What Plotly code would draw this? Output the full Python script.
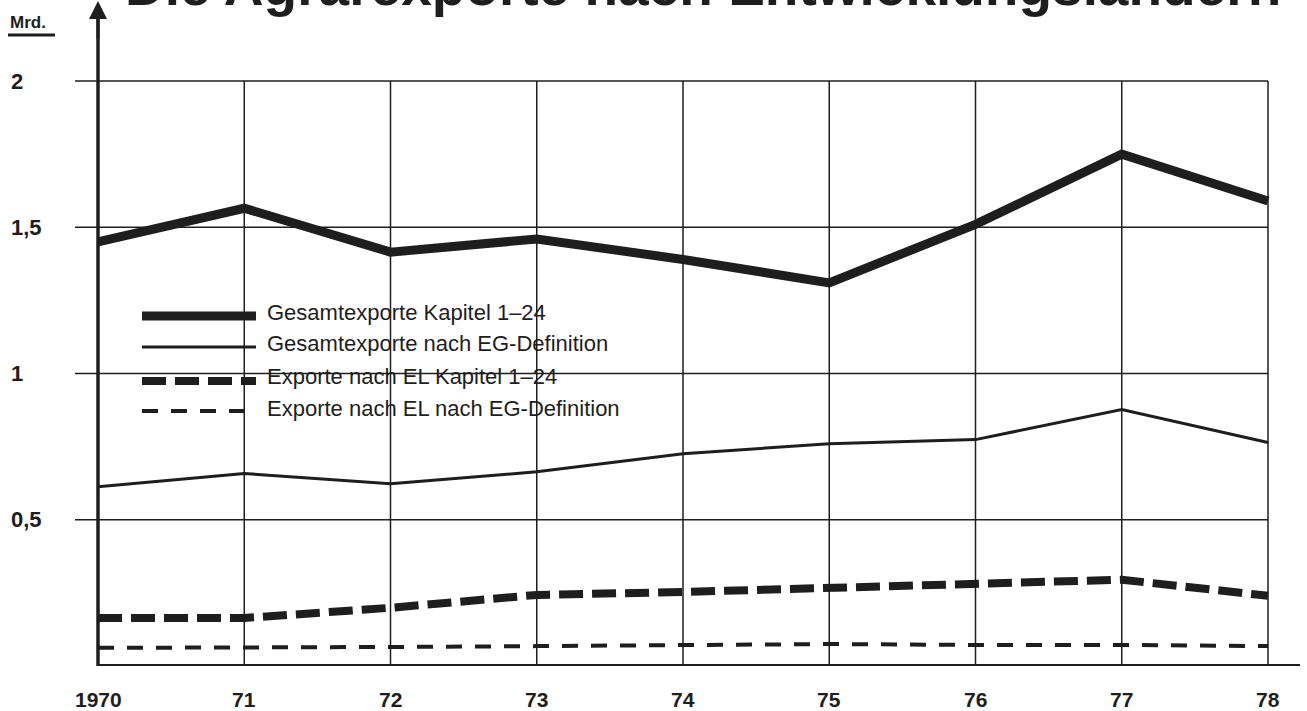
import plotly.graph_objects as go

# ---------------- data ----------------
years = [1970, 1971, 1972, 1973, 1974, 1975, 1976, 1977, 1978]
year_labels = ["1970", "71", "72", "73", "74", "75", "76", "77", "78"]

gesamt_kap = [1.45, 1.565, 1.415, 1.46, 1.39, 1.31, 1.51, 1.75, 1.59]
gesamt_eg = [0.613, 0.658, 0.623, 0.664, 0.726, 0.76, 0.774, 0.877, 0.764]
el_kap = [0.164, 0.164, 0.199, 0.243, 0.253, 0.267, 0.284, 0.295, 0.24]
el_eg = [0.062, 0.062, 0.065, 0.068, 0.07, 0.075, 0.072, 0.072, 0.068]

series_names = [
    "Gesamtexporte Kapitel 1\u201324",
    "Gesamtexporte nach EG-Definition",
    "Exporte nach EL Kapitel 1\u201324",
    "Exporte nach EL nach EG-Definition",
]
y_tickvals = [0.5, 1, 1.5, 2]
y_ticktext = ["0,5", "1", "1,5", "2"]

title_text = "Die Agrarexporte nach Entwicklungsländern"
unit_text = "Mrd."

# ---------------- layout geometry ----------------
W, H = 1307, 711
ML, MR, MT, MB = 98, 7, 5, 45
PW, PH = W - ML - MR, H - MT - MB
x_range = [1970, 1970 + PW / 146.25]
y_range = [0, PH / 292.5]

INK = "#1e1e1e"
FONT = "Liberation Sans, Arial, Helvetica, sans-serif"


def px_x(p):  # pixel -> paper x
    return (p - ML) / PW


def px_y(p):  # pixel -> paper y
    return (H - MB - p) / PH


def data_x_paper(v):
    return (v - x_range[0]) / (x_range[1] - x_range[0])


styles = [
    dict(width=9, dash="solid"),
    dict(width=3, dash="solid"),
    dict(width=8, dash="24px,9px"),
    dict(width=4, dash="16px,13px"),
]
all_series = [gesamt_kap, gesamt_eg, el_kap, el_eg]

fig = go.Figure()
for name, vals, st in zip(series_names, all_series, styles):
    fig.add_trace(go.Scatter(
        x=years, y=vals, mode="lines", name=name, showlegend=False,
        line=dict(color=INK, width=st["width"], dash=st["dash"]),
        cliponaxis=False,
    ))

shapes = []
# horizontal grid lines (extend left of axis)
for v in y_tickvals:
    shapes.append(dict(type="line", xref="paper", yref="y",
                       x0=px_x(75), x1=data_x_paper(1978), y0=v, y1=v,
                       line=dict(color=INK, width=1.5), layer="below"))
# vertical grid lines
for yr in years[1:]:
    shapes.append(dict(type="line", xref="x", yref="y",
                       x0=yr, x1=yr, y0=0, y1=2,
                       line=dict(color=INK, width=1.5), layer="below"))
# y axis
shapes.append(dict(type="line", xref="paper", yref="paper",
                   x0=0, x1=0, y0=0, y1=1, line=dict(color=INK, width=3.5)))
# x axis (thick bottom line)
shapes.append(dict(type="line", xref="paper", yref="y",
                   x0=0, x1=1, y0=0, y1=0, line=dict(color=INK, width=4)))
# underline for unit
shapes.append(dict(type="line", xref="paper", yref="paper",
                   x0=px_x(8), x1=px_x(55), y0=px_y(35), y1=px_y(35),
                   line=dict(color=INK, width=3)))

# legend (manual)
legend_line_y = [316, 347, 381, 411]
legend_text_y = [312, 343, 377, 408]
annotations = []
for name, st, ly, ty in zip(series_names, styles, legend_line_y, legend_text_y):
    shapes.append(dict(type="line", xref="paper", yref="paper",
                       x0=px_x(142), x1=px_x(256), y0=px_y(ly), y1=px_y(ly),
                       line=dict(color=INK, width=st["width"], dash=st["dash"])))
    annotations.append(dict(xref="paper", yref="paper", x=px_x(265), y=px_y(ty),
                            text=name, showarrow=False, xanchor="left", yanchor="middle",
                            font=dict(family=FONT, size=22, color=INK)))

# y tick labels (left aligned at the page edge)
for v, t in zip(y_tickvals, y_ticktext):
    annotations.append(dict(xref="paper", yref="y", x=px_x(9), y=v,
                            text="<b>" + t + "</b>", showarrow=False,
                            xanchor="left", yanchor="middle",
                            font=dict(family=FONT, size=22, color=INK)))

# x tick labels
for yr, t in zip(years, year_labels):
    annotations.append(dict(xref="x", yref="paper", x=yr, y=px_y(699),
                            text="<b>" + t + "</b>", showarrow=False,
                            xanchor="center", yanchor="middle",
                            font=dict(family=FONT, size=21, color=INK)))

# unit label
annotations.append(dict(xref="paper", yref="paper", x=px_x(8), y=px_y(22),
                        text="<b>" + unit_text + "</b>", showarrow=False,
                        xanchor="left", yanchor="middle",
                        font=dict(family=FONT, size=17, color=INK)))

# arrow head on y axis
annotations.append(dict(xref="paper", yref="paper", x=0, y=px_y(0),
                        ax=0, ay=40, text="", showarrow=True,
                        arrowhead=2, arrowsize=1.2, arrowwidth=3, arrowcolor=INK))

# title (cut at top edge, as in the reference)
annotations.append(dict(xref="paper", yref="paper", x=px_x(703), y=px_y(19),
                        text="<b>" + title_text + "</b>", showarrow=False,
                        xanchor="center", yanchor="bottom",
                        font=dict(family=FONT, size=55, color=INK)))

fig.update_layout(
    width=W, height=H,
    margin=dict(l=ML, r=MR, t=MT, b=MB, autoexpand=False),
    paper_bgcolor="white", plot_bgcolor="white",
    shapes=shapes, annotations=annotations,
    xaxis=dict(range=x_range, showgrid=False, zeroline=False, showline=False,
               showticklabels=False, ticks="", automargin=False),
    yaxis=dict(range=y_range, showgrid=False, zeroline=False, showline=False,
               showticklabels=False, ticks="", automargin=False),
)

fig.write_html("out.html",
               config={"displayModeBar": False},
               post_script="document.body.style.margin='0';document.body.style.overflow='hidden';")
